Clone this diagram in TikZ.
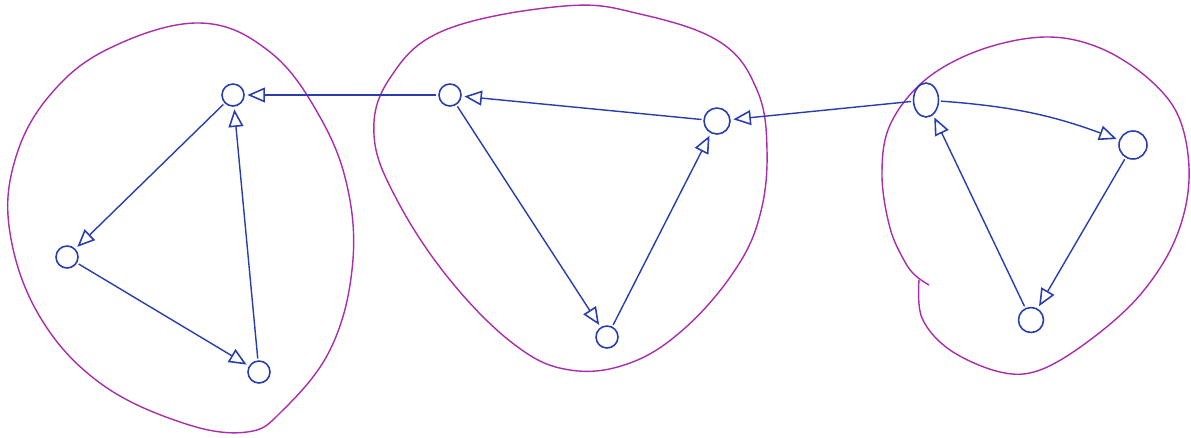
\documentclass[tikz,border=0pt]{standalone}
\usetikzlibrary{arrows.meta,shapes.geometric}
\definecolor{ink}{RGB}{40,62,175}
\definecolor{blob}{RGB}{170,45,170}
\tikzset{
  vtx/.style={circle,draw=ink,line width=0.9pt,minimum size=0.44cm,inner sep=0pt},
  vtxe/.style={ellipse,draw=ink,line width=0.9pt,minimum width=0.5cm,minimum height=0.68cm,inner sep=0pt},
  edge/.style={draw=ink,line width=0.8pt,-{Triangle[open,length=10pt,width=8.5pt,line width=0.9pt]},shorten >=1.5pt,shorten <=1pt},
  scc/.style={draw=blob,line width=0.8pt}
}
\begin{document}
\begin{tikzpicture}[x=0.02cm,y=-0.02cm]
\useasboundingbox (0,0) rectangle (1191,437);
% component blobs
\draw[scc] plot[smooth cycle,tension=0.65] coordinates {(200,23) (270,52) (320,117) (348,190) (352,270) (330,350) (283,410) (247,432) (183,423) (100,383) (40,317) (10,233) (15,160) (50,95) (110,48)};
\draw[scc] plot[smooth cycle,tension=0.65] coordinates {(565,6) (640,14) (720,42) (757,90) (767,150) (760,215) (735,270) (685,328) (630,363) (570,370) (515,345) (450,280) (397,200) (374,135) (390,78) (445,30)};
\draw[scc] plot[smooth,tension=0.6] coordinates {(919,280) (922,318) (950,350) (1000,372) (1040,370) (1090,340) (1140,295) (1175,240) (1189,180) (1180,120) (1150,80) (1100,48) (1045,37) (980,50) (925,80) (890,125) (882,175) (890,228) (905,262) (916,276) (929,285)};
% vertices
\node[vtx] (a1) at (233,95) {};
\node[vtx] (a2) at (67,257) {};
\node[vtx] (a3) at (259,372) {};
\node[vtx] (b1) at (450,95) {};
\node[vtx,minimum size=0.52cm] (b2) at (717,121) {};
\node[vtx] (b3) at (607,337) {};
\node[vtxe] (c1) at (926,100) {};
\node[vtx,minimum size=0.56cm] (c2) at (1133,145) {};
\node[vtx,minimum size=0.5cm] (c3) at (1031,320) {};
% edges
\draw[edge] (a1) -- (a2);
\draw[edge] (a2) -- (a3);
\draw[edge] (a3) -- (a1);
\draw[edge] (b2) -- (b1);
\draw[edge] (b1) -- (b3);
\draw[edge] (b3) -- (b2);
\draw[edge] (b1) -- (a1);
\draw[edge] (c1) to[bend left=8] (c2);
\draw[edge] (c2) -- (c3);
\draw[edge] (c3) -- (c1);
\draw[edge] (c1) -- (b2);
\end{tikzpicture}
\end{document}
